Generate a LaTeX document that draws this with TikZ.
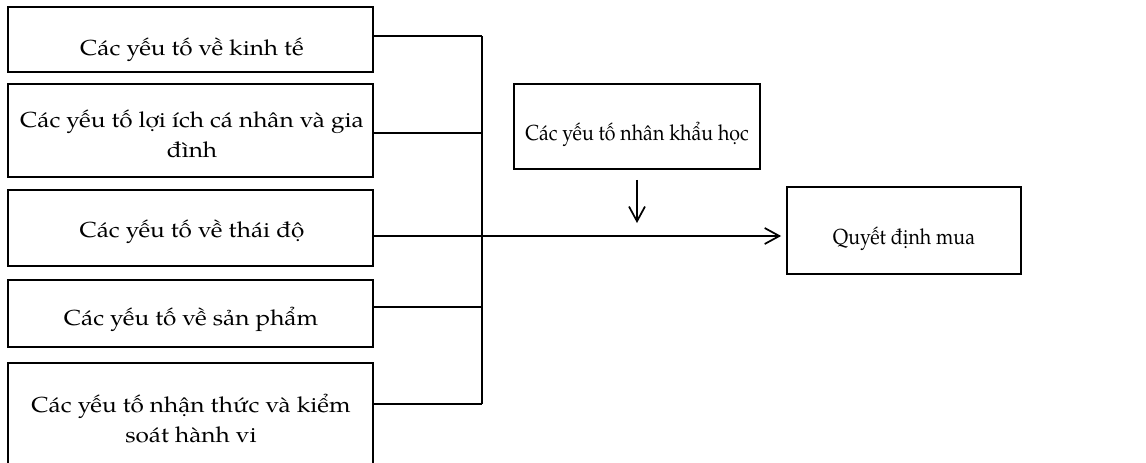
\documentclass[tikz,border=0pt]{standalone}
\usepackage{fontspec}
\setmainfont{texgyrepagella}[Extension=.otf, UprightFont=*-regular, BoldFont=*-bold, ItalicFont=*-italic, BoldItalicFont=*-bolditalic]
\usetikzlibrary{arrows.meta}
\begin{document}
\begin{tikzpicture}[x=0.75pt,y=-0.75pt,
  box/.style={draw, line width=1.3pt, inner sep=0pt},
  lab/.style={align=center, inner sep=0pt, anchor=base, transform shape, font=\fontsize{16.3}{22.5}\selectfont},
  labL/.style={lab, xscale=1.12},
  labR/.style={lab, xscale=0.9},
  link/.style={line width=1.3pt},
  arr/.style={line width=1.3pt, -{Straight Barb[length=11pt,width=12pt,line width=1.3pt]}}]
\useasboundingbox (0,0) rectangle (1146,462);
\clip (0,0) rectangle (1146,462);
\node[box, minimum width=273.75pt, minimum height=48.75pt] (b1) at (190.5,39.5) {};
\node[box, minimum width=273.75pt, minimum height=69.75pt] (b2) at (190.5,130.5) {};
\node[box, minimum width=273.75pt, minimum height=57pt] (b3) at (190.5,228) {};
\node[box, minimum width=273.75pt, minimum height=50.25pt] (b4) at (190.5,313.5) {};
\node[box, minimum width=273.75pt, minimum height=86.25pt] (b5) at (190.5,420.5) {};
\node[box, minimum width=184.5pt, minimum height=63.75pt] (dk) at (637,126.5) {};
\node[box, minimum width=175.5pt, minimum height=65.25pt] (qd) at (904,230.5) {};
\node[labL] (t1) at (192,55) {Các yếu tố về kinh tế};
\node[labL] (t2) at (192,157) {Các yếu tố lợi ích cá nhân và gia\\đình};
\node[labL] (t3) at (192,237) {Các yếu tố về thái độ};
\node[labL] (t4) at (191,325) {Các yếu tố về sản phẩm};
\node[labL] (t5) at (191,442) {Các yếu tố nhận thức và kiểm\\soát hành vi};
\node[labR] (t6) at (637,140) {Các yếu tố nhân khẩu học};
\node[labR] (t7) at (904,244) {Quyết định mua};
\coordinate (j1) at (482,36);
\coordinate (j2) at (482,133);
\coordinate (j3) at (482,236);
\coordinate (j4) at (482,307);
\coordinate (j5) at (482,404);
\coordinate (dkend) at (637,223);
\draw[link] (b1.east |- j1) -- (j1);
\draw[link] (b2.east |- j2) -- (j2);
\draw[link] (b4.east |- j4) -- (j4);
\draw[link] (b5.east |- j5) -- (j5);
\draw[link] (j1) -- (j5);
\draw[arr] (b3.east |- j3) -- ([xshift=-3.75pt]qd.west |- j3);
\draw[arr] ([yshift=-7.5pt]dk.south) -- (dkend);
\end{tikzpicture}
\end{document}
